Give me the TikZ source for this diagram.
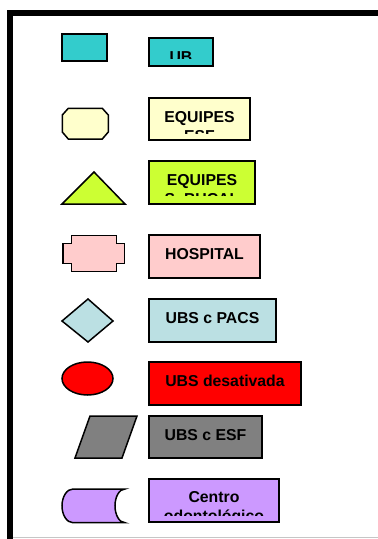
\documentclass[tikz,border=0pt]{standalone}
\usepackage{fontspec}
\setmainfont{Liberation Sans}
\definecolor{ubcyan}{RGB}{51,204,204}
\definecolor{esfyellow}{RGB}{255,255,204}
\definecolor{bucallime}{RGB}{204,255,51}
\definecolor{hosppink}{RGB}{255,204,204}
\definecolor{pacsblue}{RGB}{187,224,227}
\definecolor{ubsred}{RGB}{255,0,0}
\definecolor{esfgray}{RGB}{128,128,128}
\definecolor{odontopurple}{RGB}{204,153,255}

\begin{document}
\begin{tikzpicture}[x=1pt, y=-1pt,
		symb/.style={draw=black, line width=1.5pt, line join=miter},
		labelbox/.style={draw=black, line width=2pt},
		lbltext/.style={anchor=base, inner sep=0pt, font=\fontsize{15.8}{19}\bfseries\selectfont}]
		\useasboundingbox (0,0) rectangle (378,539);
		% frame
		\fill[black] (7,10) rectangle (378,15.5);
		\fill[black] (7,10) rectangle (13,539);
		\draw[gray!45, line width=1pt] (13,537.5) -- (378,537.5);
		% symbols
		\draw[symb, fill=ubcyan] (62,34) rectangle (107,61);
		\draw[symb, fill=esfyellow] (68.3,108.3) -- (102.3,108.3) -- (108.3,115) -- (108.3,132)
			-- (102.3,139) -- (68.3,139) -- (62.3,132) -- (62.3,115) -- cycle;
		\draw[symb, fill=bucallime] (62,204) -- (94,172) -- (125,204) -- cycle;
		\draw[symb, fill=hosppink] (71.7,235.5) -- (116.7,235.5) -- (116.7,243.7) -- (124.5,243.7)
			-- (124.5,263.7) -- (116.7,263.7) -- (116.7,271.3) -- (71.7,271.3) -- (71.7,263.7)
			-- (63,263.7) -- (63,243.7) -- (71.7,243.7) -- cycle;
		\draw[symb, fill=pacsblue] (62,321) -- (88,299) -- (113,321) -- (88,342) -- cycle;
		\draw[symb, fill=ubsred] (87.5,378.5) ellipse [x radius=25.5, y radius=16.5];
		\draw[symb, fill=esfgray] (90,416) -- (137,416) -- (122,458) -- (75,458) -- cycle;
		\draw[symb, fill=odontopurple] (73,489) .. controls (66.92,489) and (62,496.54) .. (62,505.85)
			.. controls (62,515.16) and (66.92,522.7) .. (73,522.7) -- (125,522.7)
			.. controls (119.48,522.7) and (115,515.16) .. (115,505.85)
			.. controls (115,496.54) and (119.48,489) .. (125,489) -- cycle;
		% label boxes
		\draw[labelbox, fill=ubcyan] (149,38) rectangle (213,66);
		\begin{scope}
			\clip (149,38) rectangle (213,58.5);
			\node[lbltext] (ub) at (181,62) {UB};
		\end{scope}
		\draw[labelbox, fill=esfyellow] (149,98) rectangle (250,140);
		\begin{scope}
			\clip (149,98) rectangle (250,133.3);
			\node[lbltext] (equipesEsf) at (199.5,122) {EQUIPES};
			\node[lbltext] (esf) at (199.5,141) {ESF};
		\end{scope}
		\draw[labelbox, fill=bucallime] (149,161) rectangle (255,204);
		\begin{scope}
			\clip (149,161) rectangle (255,195.5);
			\node[lbltext] (equipesBucal) at (202,185.5) {EQUIPES};
			\node[lbltext] (bucal) at (202,204.5) {S. BUCAL};
		\end{scope}
		\draw[labelbox, fill=hosppink] (149,235) rectangle (260,278);
		\node[lbltext] (hospital) at (204.5,259) {HOSPITAL};
		\draw[labelbox, fill=pacsblue] (149,299) rectangle (276,342);
		\node[lbltext] (ubsPacs) at (212.5,323) {UBS c PACS};
		\draw[labelbox, fill=ubsred] (149,362) rectangle (301,405);
		\node[lbltext] (ubsDesat) at (225,386) {UBS desativada};
		\draw[labelbox, fill=esfgray] (149,416) rectangle (262,458);
		\node[lbltext] (ubsEsf) at (205.5,440) {UBS c ESF};
		\draw[labelbox, fill=odontopurple] (149,479) rectangle (279,522);
		\begin{scope}
			\clip (149,479) rectangle (279,515);
			\node[lbltext] (centro) at (214,502.5) {Centro};
			\node[lbltext] (odonto) at (214,521.5) {odontológico};
		\end{scope}
	\end{tikzpicture}
\end{document}
